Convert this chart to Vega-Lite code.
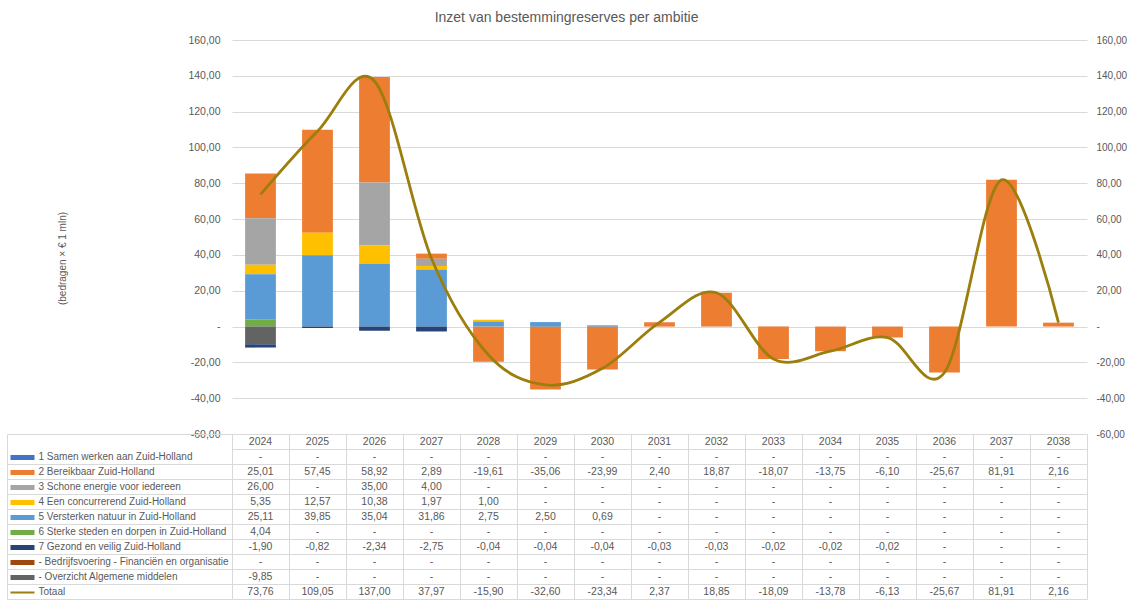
{
  "$schema": "https://vega.github.io/schema/vega-lite/v6.json",
  "padding": {"left": 6, "top": 11, "right": 0, "bottom": 0},
  "config": {
    "font": "Liberation Sans",
    "view": {"stroke": null},
    "locale": {"number": {"decimal": ",", "thousands": ".", "grouping": [3], "currency": ["€ ", ""], "minus": "-"}}
  },
  "title": {"text": "Inzet van bestemmingreserves per ambitie", "fontSize": 14, "fontWeight": "normal", "color": "#595959", "anchor": "middle", "offset": 10},
  "bounds": "flush",
  "spacing": 0,
  "datasets": {
    "jaren": [
      {"jaar": "2024", "s2": 25.01, "s3": 26.00, "s4": 5.35, "s5": 25.11, "s6": 4.04, "s7": -1.90, "s9": -9.85, "tot": 73.76},
      {"jaar": "2025", "s2": 57.45, "s4": 12.57, "s5": 39.85, "s7": -0.82, "tot": 109.05},
      {"jaar": "2026", "s2": 58.92, "s3": 35.00, "s4": 10.38, "s5": 35.04, "s7": -2.34, "tot": 137.00},
      {"jaar": "2027", "s2": 2.89, "s3": 4.00, "s4": 1.97, "s5": 31.86, "s7": -2.75, "tot": 37.97},
      {"jaar": "2028", "s2": -19.61, "s4": 1.00, "s5": 2.75, "s7": -0.04, "tot": -15.90},
      {"jaar": "2029", "s2": -35.06, "s5": 2.50, "s7": -0.04, "tot": -32.60},
      {"jaar": "2030", "s2": -23.99, "s5": 0.69, "s7": -0.04, "tot": -23.34},
      {"jaar": "2031", "s2": 2.40, "s7": -0.03, "tot": 2.37},
      {"jaar": "2032", "s2": 18.87, "s7": -0.03, "tot": 18.85},
      {"jaar": "2033", "s2": -18.07, "s7": -0.02, "tot": -18.09},
      {"jaar": "2034", "s2": -13.75, "s7": -0.02, "tot": -13.78},
      {"jaar": "2035", "s2": -6.10, "s7": -0.02, "tot": -6.13},
      {"jaar": "2036", "s2": -25.67, "tot": -25.67},
      {"jaar": "2037", "s2": 81.91, "tot": 81.91},
      {"jaar": "2038", "s2": 2.16, "tot": 2.16}
    ],
    "reeksen": [
      {"key": "s1", "naam": "1 Samen werken aan Zuid-Holland"},
      {"key": "s2", "naam": "2 Bereikbaar Zuid-Holland"},
      {"key": "s3", "naam": "3 Schone energie voor iedereen"},
      {"key": "s4", "naam": "4 Een concurrerend Zuid-Holland"},
      {"key": "s5", "naam": "5 Versterken natuur in Zuid-Holland"},
      {"key": "s6", "naam": "6 Sterke steden en dorpen in Zuid-Holland"},
      {"key": "s7", "naam": "7 Gezond en veilig Zuid-Holland"},
      {"key": "s8", "naam": "- Bedrijfsvoering - Financiën en organisatie"},
      {"key": "s9", "naam": "- Overzicht Algemene middelen"},
      {"key": "tot", "naam": "Totaal"}
    ]
  },
  "data": {"name": "jaren"},
  "vconcat": [
    {
      "width": 855,
      "height": 394,
      "transform": [
        {"fold": ["s1", "s2", "s3", "s4", "s5", "s6", "s7", "s8", "s9", "tot"], "as": ["key", "waarde"]}
      ],
      "layer": [
        {
          "transform": [{"filter": "datum.key != 'tot' && isValid(datum.waarde)"}],
          "mark": {"type": "bar"},
          "encoding": {
            "x": {"field": "jaar", "type": "ordinal", "axis": null, "scale": {"paddingInner": 0.46, "paddingOuter": 0.23}},
            "y": {
              "field": "waarde", "type": "quantitative", "stack": "zero",
              "scale": {"domain": [-60, 160], "nice": false, "zero": false},
              "axis": {
                "orient": "left", "values": [-60, -40, -20, 0, 20, 40, 60, 80, 100, 120, 140, 160],
                "format": ",.2f", "labelExpr": "datum.value == 0 ? '-' : datum.label",
                "grid": true, "gridColor": "#d9d9d9", "ticks": false, "domain": false,
                "labelPadding": 12, "labelFontSize": 10.5, "labelColor": "#595959",
                "title": "(bedragen × € 1 mln)", "titleFontSize": 10, "titleFontWeight": "normal",
                "titleColor": "#595959", "titlePadding": 120, "titleY": 218
              }
            },
            "color": {
              "field": "key", "type": "nominal", "legend": null,
              "scale": {
                "domain": ["s1", "s2", "s3", "s4", "s5", "s6", "s7", "s8", "s9"],
                "range": ["#4472C4", "#ED7D31", "#A5A5A5", "#FFC000", "#5B9BD5", "#70AD47", "#264478", "#9E480E", "#636363"]
              }
            },
            "order": {"field": "key", "sort": "descending"}
          }
        },
        {
          "transform": [{"filter": "datum.key == 'tot'"}],
          "mark": {"type": "line", "interpolate": "cardinal", "strokeWidth": 2.8, "color": "#9C7E0C"},
          "encoding": {
            "x": {"field": "jaar", "type": "ordinal", "axis": null},
            "y": {
              "field": "waarde", "type": "quantitative",
              "scale": {"domain": [-60, 160], "nice": false, "zero": false},
              "axis": {
                "orient": "right", "values": [-60, -40, -20, 0, 20, 40, 60, 80, 100, 120, 140, 160],
                "format": ",.2f", "labelExpr": "datum.value == 0 ? '-' : datum.label",
                "grid": false, "ticks": false, "domain": false,
                "labelPadding": 9, "labelFontSize": 10, "labelColor": "#595959", "title": null
              }
            }
          }
        }
      ],
      "resolve": {"scale": {"y": "independent"}}
    },
    {
      "width": 855,
      "height": 165,
      "transform": [
        {"fold": ["s1", "s2", "s3", "s4", "s5", "s6", "s7", "s8", "s9", "tot"], "as": ["key", "waarde"]},
        {"lookup": "key", "from": {"data": {"name": "reeksen"}, "key": "key", "fields": ["naam"]}}
      ],
      "layer": [
        {
          "mark": {"type": "text", "fontSize": 10.5, "color": "#595959"},
          "encoding": {
            "x": {
              "field": "jaar", "type": "ordinal",
              "scale": {"paddingInner": 0, "paddingOuter": 0},
              "axis": {"orient": "bottom", "labels": false, "ticks": false, "domain": false, "grid": true, "gridColor": "#d9d9d9", "tickBand": "extent", "title": null}
            },
            "y": {
              "field": "naam", "type": "nominal",
              "scale": {
                "domain": ["Jaar", "1 Samen werken aan Zuid-Holland", "2 Bereikbaar Zuid-Holland", "3 Schone energie voor iedereen", "4 Een concurrerend Zuid-Holland", "5 Versterken natuur in Zuid-Holland", "6 Sterke steden en dorpen in Zuid-Holland", "7 Gezond en veilig Zuid-Holland", "- Bedrijfsvoering - Financiën en organisatie", "- Overzicht Algemene middelen", "Totaal"],
                "paddingInner": 0, "paddingOuter": 0
              },
              "axis": {
                "orient": "left", "title": null, "grid": true, "gridColor": "#d9d9d9", "tickBand": "extent",
                "ticks": true, "tickSize": 225,
                "tickColor": {"condition": {"test": "datum.value == 'Jaar'", "value": "transparent"}, "value": "#d9d9d9"},
                "domain": false, "labelAlign": "left", "labelPadding": -31, "labelFontSize": 10,
                "labelColor": "#595959", "labelLimit": 205,
                "labelExpr": "datum.value == 'Jaar' ? '' : datum.label"
              }
            },
            "text": {"condition": {"test": "!isValid(datum.waarde)", "value": "-"}, "field": "waarde", "type": "quantitative", "format": ",.2f"}
          }
        },
        {
          "transform": [{"filter": "datum.key == 'tot'"}],
          "mark": {"type": "text", "fontSize": 10.5, "color": "#595959"},
          "encoding": {
            "x": {"field": "jaar", "type": "ordinal"},
            "y": {
              "datum": "Jaar", "type": "nominal",
              "scale": {
                "domain": ["Jaar", "1 Samen werken aan Zuid-Holland", "2 Bereikbaar Zuid-Holland", "3 Schone energie voor iedereen", "4 Een concurrerend Zuid-Holland", "5 Versterken natuur in Zuid-Holland", "6 Sterke steden en dorpen in Zuid-Holland", "7 Gezond en veilig Zuid-Holland", "- Bedrijfsvoering - Financiën en organisatie", "- Overzicht Algemene middelen", "Totaal"],
                "paddingInner": 0, "paddingOuter": 0
              },
              "axis": {
                "orient": "left", "offset": 225, "title": null, "labels": false, "ticks": false, "grid": false,
                "domain": true, "domainColor": "#d9d9d9"
              }
            },
            "text": {"field": "jaar", "type": "nominal"}
          }
        },
        {
          "transform": [{"filter": "datum.jaar == '2024'"}],
          "mark": {"type": "text", "text": ""},
          "encoding": {
            "y": {
              "field": "key", "type": "nominal",
              "scale": {"domain": ["hdr", "s1", "s2", "s3", "s4", "s5", "s6", "s7", "s8", "s9", "tot"], "paddingInner": 0, "paddingOuter": 0},
              "axis": {
                "orient": "left", "title": null, "labels": false, "domain": false, "grid": false,
                "ticks": true, "tickSize": 222, "tickDash": [0, 198, 24, 20],
                "tickWidth": {"condition": {"test": "datum.value == 'tot'", "value": 2}, "value": 5},
                "tickColor": {
                  "condition": [
                    {"test": "datum.value == 's1'", "value": "#4472C4"},
                    {"test": "datum.value == 's2'", "value": "#ED7D31"},
                    {"test": "datum.value == 's3'", "value": "#A5A5A5"},
                    {"test": "datum.value == 's4'", "value": "#FFC000"},
                    {"test": "datum.value == 's5'", "value": "#5B9BD5"},
                    {"test": "datum.value == 's6'", "value": "#70AD47"},
                    {"test": "datum.value == 's7'", "value": "#264478"},
                    {"test": "datum.value == 's8'", "value": "#9E480E"},
                    {"test": "datum.value == 's9'", "value": "#636363"},
                    {"test": "datum.value == 'tot'", "value": "#9C7E0C"}
                  ],
                  "value": "transparent"
                }
              }
            }
          }
        }
      ],
      "resolve": {"scale": {"y": "independent"}}
    }
  ]
}
